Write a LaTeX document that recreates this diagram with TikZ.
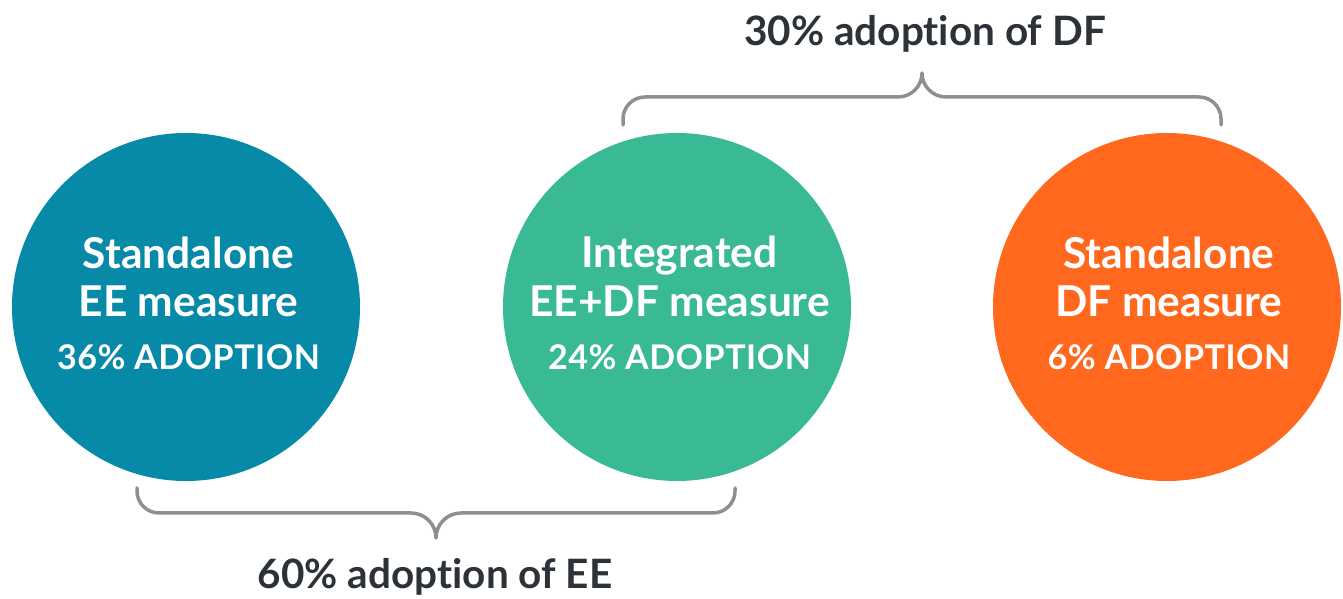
\documentclass[tikz,border=0pt]{standalone}
\usepackage{fontspec}
\setmainfont{Lato}
\newfontfamily\circfont[Ligatures=NoCommon]{Lato Bold}
\newfontfamily\lblfont[Ligatures=NoCommon]{Lato Bold}
\definecolor{eeblue}{RGB}{7,137,168}
\definecolor{bothgreen}{RGB}{57,185,148}
\definecolor{dforange}{RGB}{255,104,29}
\definecolor{bracegray}{RGB}{140,143,147}
\definecolor{labeltext}{RGB}{45,50,56}
\tikzset{
  bubble/.style={circle, minimum size=348pt, inner sep=0pt, draw=none},
  bigline/.style={anchor=base, text=white, font=\circfont\fontsize{42.5}{46}\selectfont, inner sep=0pt},
  smallline/.style={anchor=base, text=white, font=\circfont\fontsize{34}{38}\selectfont\addfontfeatures{LetterSpace=1.5}, inner sep=0pt},
  bracket/.style={draw=bracegray, line width=3.5pt, line cap=round, line join=round},
  grouplabel/.style={anchor=base, text=labeltext, font=\lblfont\fontsize{40.5}{44}\selectfont, inner sep=0pt}
}
\begin{document}
\begin{tikzpicture}[x=1pt,y=1pt]
\useasboundingbox (0,0) rectangle (1343,599);
% circles
\node[bubble, fill=eeblue] (ee) at (186,292) {};
\node[bubble, fill=bothgreen] (both) at (677,292) {};
\node[bubble, fill=dforange] (df) at (1167,292) {};
% circle texts
\node[bigline] (ee1) at (188.5,330) {Standalone};
\node[bigline] (ee2) at (188.5,282) {EE measure};
\node[smallline] (ee3) at (188.5,229) {36\% ADOPTION};
\node[bigline] (both1) at (679.5,331) {Integrated};
\node[bigline] (both2) at (679.5,282) {EE+DF measure};
\node[smallline] (both3) at (679.5,229) {24\% ADOPTION};
\node[bigline] (df1) at (1169,330) {Standalone};
\node[bigline] (df2) at (1169,282) {DF measure};
\node[smallline] (df3) at (1169,229) {6\% ADOPTION};
% top bracket
\coordinate (tl) at (623,474);
\coordinate (tr) at (1221,474);
\draw[bracket] (tl) -- ++(0,6) arc[start angle=180, end angle=90, radius=22]
  -- (898,502) arc[start angle=270, end angle=360, radius=24]
  arc[start angle=180, end angle=270, radius=24]
  -- (1199,502) arc[start angle=90, end angle=0, radius=22] -- (tr);
% bottom bracket
\coordinate (bl) at (137,111);
\coordinate (br) at (735,111);
\draw[bracket] (bl) -- ++(0,-3) arc[start angle=180, end angle=270, radius=22]
  -- (411,86) arc[start angle=90, end angle=0, radius=25]
  arc[start angle=180, end angle=90, radius=25]
  -- (713,86) arc[start angle=270, end angle=360, radius=22] -- (br);
% labels
\node[grouplabel] (dflabel) at (925,553) {30\% adoption of DF};
\node[grouplabel] (eelabel) at (435,10) {60\% adoption of EE};
\end{tikzpicture}
\end{document}
